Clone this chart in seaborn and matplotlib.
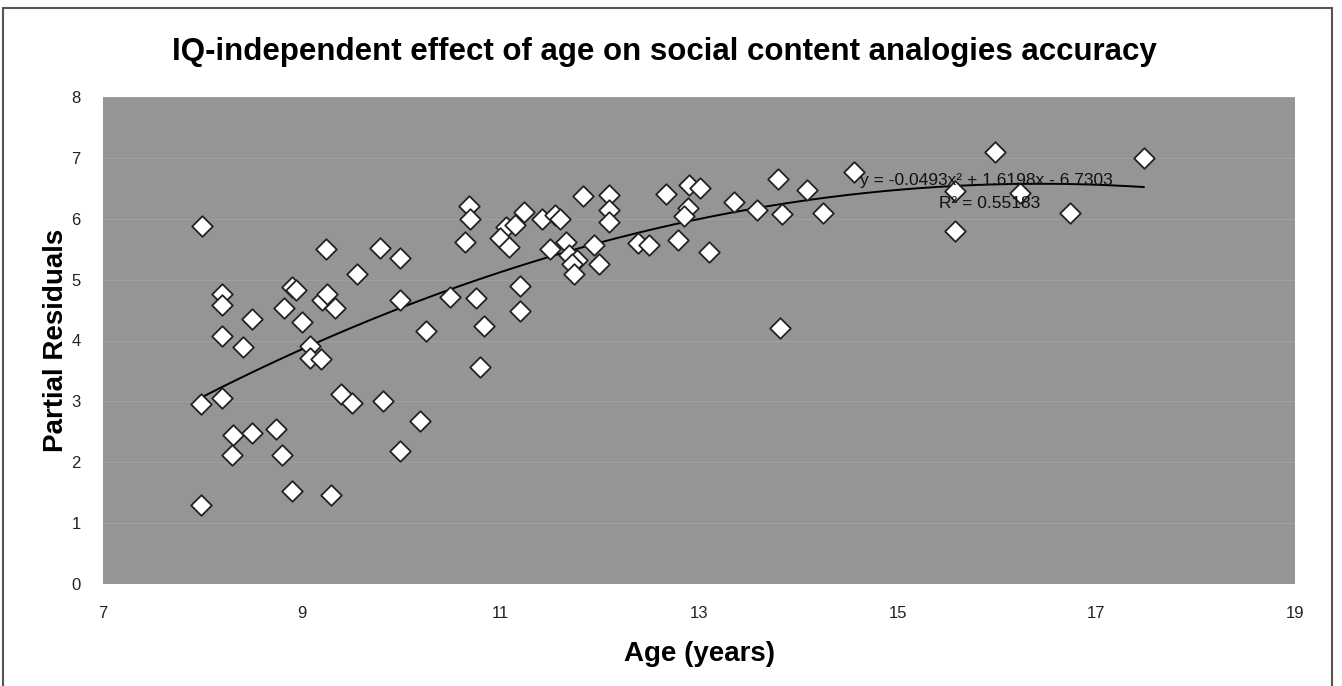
import numpy as np
import pandas as pd
import matplotlib
matplotlib.use('Agg')
import matplotlib.pyplot as plt
import seaborn as sns
from matplotlib.patches import Rectangle

# Data
age = [8.00, 9.24, 9.79, 9.99, 9.56, 8.90, 8.94, 8.20, 8.20, 8.82,
       9.20, 9.25, 9.34, 9.99, 8.50, 9.00, 8.20, 8.41, 9.08, 9.08,
       9.19, 7.99, 8.20, 9.40, 9.51, 9.82, 8.31, 8.50, 8.74, 8.30,
       8.80, 9.99, 8.90, 9.30, 7.99, 10.19, 10.25, 10.68, 10.69, 10.64,
       10.49, 10.76, 10.84, 10.80, 11.06, 11.15, 11.00, 11.09, 11.24, 11.20,
       11.20, 11.42, 11.55, 11.60, 11.50, 11.66, 11.69, 11.77, 11.72, 11.74,
       11.83, 11.94, 11.99, 12.09, 12.09, 12.09, 12.39, 12.50, 12.67, 12.79,
       12.90, 12.89, 12.85, 13.01, 13.10, 13.35, 13.58, 13.80, 13.84, 14.09,
       14.25, 13.82, 14.56, 15.58, 15.58, 15.98, 16.23, 16.73, 17.48]
residual = [5.88, 5.51, 5.52, 5.35, 5.09, 4.88, 4.83, 4.76, 4.58, 4.53,
            4.66, 4.76, 4.54, 4.66, 4.36, 4.30, 4.07, 3.90, 3.91, 3.71,
            3.69, 2.96, 3.05, 3.12, 2.97, 3.01, 2.45, 2.48, 2.55, 2.12,
            2.12, 2.18, 1.52, 1.46, 1.29, 2.68, 4.16, 6.21, 5.99, 5.61,
            4.72, 4.69, 4.23, 3.56, 5.86, 5.90, 5.68, 5.53, 6.11, 4.89,
            4.48, 6.00, 6.06, 5.99, 5.50, 5.62, 5.40, 5.33, 5.25, 5.09,
            6.37, 5.57, 5.25, 6.39, 6.14, 5.95, 5.60, 5.57, 6.40, 5.65,
            6.55, 6.17, 6.04, 6.50, 5.45, 6.28, 6.14, 6.66, 6.08, 6.48,
            6.10, 4.20, 6.77, 6.46, 5.80, 7.10, 6.42, 6.10, 6.99]

# quadratic trendline coefficients (from the chart's equation)
coef = [-0.0493, 1.6198, -6.7303]
r2 = 0.55183

df = pd.DataFrame({'age': age, 'residual': residual})

sns.set_style('white')
plt.rcParams['font.family'] = ['Liberation Sans', 'DejaVu Sans']
plt.rcParams['text.color'] = 'black'
plt.rcParams['axes.labelcolor'] = 'black'

fig = plt.figure(figsize=(13.42, 6.86), dpi=100)
ax = fig.add_axes([103/1342, 1-584/686, (1295-103)/1342, (584-97)/686])
ax.set_facecolor('#959595')

xs = np.linspace(min(age), max(age), 200)
trend = pd.DataFrame({'age': xs, 'fit': np.polyval(coef, xs)})
sns.lineplot(data=trend, x='age', y='fit', ax=ax, color='black', linewidth=1.4, zorder=2)

sns.scatterplot(data=df, x='age', y='residual', ax=ax, marker='D', s=110,
                color='white', edgecolor='#222222', linewidth=1.3, zorder=3)

ax.set_xlim(7, 19)
ax.set_ylim(0, 8)
ax.set_xticks(range(7, 20, 2))
ax.set_yticks(range(0, 9))
ax.grid(axis='y', color='#a0a0a0', linewidth=0.8)
ax.set_axisbelow(True)
for s in ax.spines.values():
    s.set_visible(False)
ax.tick_params(axis='both', length=0, labelsize=12, colors='#222222')
ax.tick_params(axis='x', pad=16)
ax.tick_params(axis='y', pad=16)

ax.set_xlabel('Age (years)', fontsize=20, fontweight='bold', labelpad=14)
ax.set_ylabel('Partial Residuals', fontsize=20, fontweight='bold', labelpad=2)

ax.text(14.62, 6.63, 'y = -0.0493x\u00b2 + 1.6198x - 6.7303', fontsize=12.5,
        color='#111111', va='center', ha='left', zorder=4)
ax.text(15.42, 6.25, 'R\u00b2 = %.5f' % r2, fontsize=12.5, color='#111111',
        va='center', ha='left', zorder=4)

fig.text(0.495, 1-52/686, 'IQ-independent effect of age on social content analogies accuracy',
         fontsize=22.5, fontweight='bold', ha='center', va='center')

fig.patches.append(Rectangle((3/1342, -0.01), (1332-3)/1342, 1-8/686+0.01,
                             transform=fig.transFigure, fill=False,
                             edgecolor='#555555', linewidth=1.5))

fig.savefig('out.png', dpi=100)
